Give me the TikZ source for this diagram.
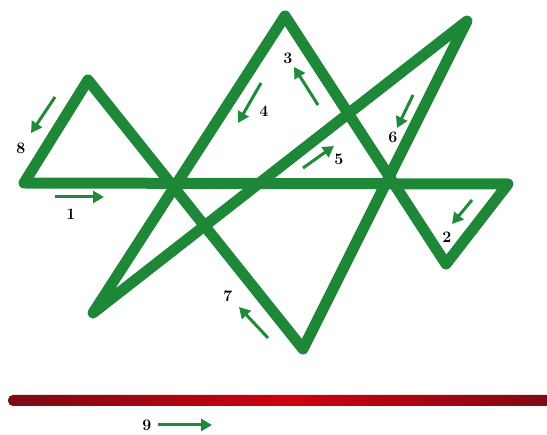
\documentclass[tikz,border=0pt]{standalone}
\usetikzlibrary{arrows.meta}
\definecolor{lg}{HTML}{1F8838}
\definecolor{ag}{HTML}{1E8A3A}
\definecolor{dred}{HTML}{7A0A14}
\definecolor{mred}{HTML}{D00010}
\tikzset{
  seg/.style={line width=11pt, lg, line cap=round, line join=round},
  marker/.style={line width=3pt, ag, -{Triangle[length=11pt,width=12pt]}},
  lab/.style={font=\fontsize{16}{18}\selectfont\bfseries, inner sep=0pt}
}
\begin{document}
\begin{tikzpicture}[x=1pt,y=-1pt]
\useasboundingbox (0,0) rectangle (547,435);
% vertices
\coordinate (v0) at (24,183);
\coordinate (v1) at (508,184);
\coordinate (v2) at (446,264);
\coordinate (v3) at (285,16);
\coordinate (v4) at (93,313);
\coordinate (v5) at (467,21);
\coordinate (v6) at (303,349);
\coordinate (v7) at (88,80);
\draw[seg] (v0) -- (v1) -- (v2) -- (v3) -- (v4) -- (v5) -- (v6) -- (v7) -- cycle;
% red line
\shade[left color=dred, right color=dred, middle color=mred, rounded corners=5pt]
  (8,395) rectangle (570,406);
% direction arrows
\coordinate (a1s) at (55,197); \coordinate (a1e) at (104,197);
\coordinate (a2s) at (472,200); \coordinate (a2e) at (452,224);
\coordinate (a3s) at (318,105); \coordinate (a3e) at (294,67);
\coordinate (a4s) at (261,83); \coordinate (a4e) at (238,123);
\coordinate (a5s) at (303,168); \coordinate (a5e) at (334,146);
\coordinate (a6s) at (413,95); \coordinate (a6e) at (397,128);
\coordinate (a7s) at (268,338); \coordinate (a7e) at (239,307);
\coordinate (a8s) at (55,97); \coordinate (a8e) at (31,133);
\coordinate (a9s) at (158,425); \coordinate (a9e) at (212,425);
\foreach \i in {1,...,9} {\draw[marker] (a\i s) -- (a\i e);}
% labels
\node[lab] (l1) at (71,214) {1};
\node[lab] (l2) at (447,237) {2};
\node[lab] (l3) at (288,58) {3};
\node[lab] (l4) at (264,111) {4};
\node[lab] (l5) at (339,159) {5};
\node[lab] (l6) at (393,137) {6};
\node[lab] (l7) at (228,296) {7};
\node[lab] (l8) at (21,148) {8};
\node[lab] (l9) at (147,425) {9};
\end{tikzpicture}
\end{document}
